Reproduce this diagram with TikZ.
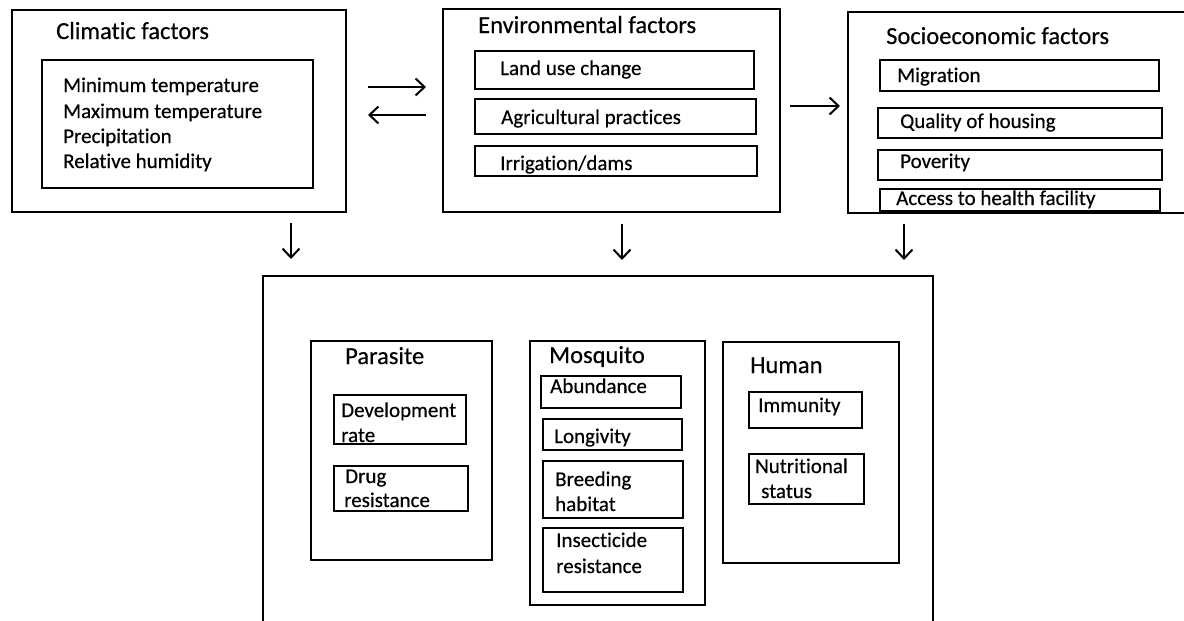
\documentclass[tikz,border=0pt]{standalone}
\usepackage{fontspec}
\setmainfont{Carlito}[Ligatures={NoCommon}, FakeBold=0.4]
\usetikzlibrary{fit,arrows.meta}
\tikzset{
  box/.style={draw=black, line width=1.2pt, inner sep=0pt},
  ttl/.style={anchor=base west, inner sep=0pt, font=\fontsize{24.5}{28}\selectfont},
  itm/.style={anchor=base west, inner sep=0pt, font=\fontsize{21}{25}\selectfont},
  arr/.style={line width=2pt, -{Straight Barb[length=9pt,width=17pt,line width=2pt]}}
}
\newcommand\rbox[3]{\node[box, fit={#2 #3}] (#1) {};}
\begin{document}
\begin{tikzpicture}[x=1pt,y=-1pt]
\useasboundingbox (0,0) rectangle (1184,621);
\clip (0,0) rectangle (1184,621);
% Climatic
\rbox{clim}{(12,10)}{(346,212)}
\node[ttl] (tclim) at (56,39) {Climatic factors};
\rbox{climin}{(42,60)}{(313,188)}
\node[itm] (c1) at (63,92) {Minimum temperature};
\node[itm] (c2) at (63,118) {Maximum temperature};
\node[itm] (c3) at (63,143) {Precipitation};
\node[itm] (c4) at (63,168) {Relative humidity};
% Environmental
\rbox{env}{(443,9)}{(780,212)}
\node[ttl] (tenv) at (478,33) {Environmental factors};
\rbox{e1}{(475,51)}{(754,89)}
\node[itm] (te1) at (500,75) {Land use change};
\rbox{e2}{(475,99)}{(756,134)}
\node[itm] (te2) at (501,124) {Agricultural practices};
\rbox{e3}{(475,146)}{(757,176)}
\node[itm] (te3) at (500,170) {Irrigation/dams};
% Socioeconomic
\rbox{soc}{(848,12)}{(1200,213)}
\node[ttl] (tsoc) at (886,44) {Socioeconomic factors};
\rbox{s1}{(880,60)}{(1159,91)}
\node[itm] (ts1) at (897,82) {Migration};
\rbox{s2}{(878,108)}{(1162,138)}
\node[itm] (ts2) at (900,128) {Quality of housing};
\rbox{s3}{(878,150)}{(1162,180)}
\node[itm] (ts3) at (900,168) {Poverity};
\rbox{s4}{(880,189)}{(1160,211)}
\node[itm] (ts4) at (896,205) {Access to health facility};
% arrows between top boxes
\coordinate (h1a) at (368,87); \coordinate (h1b) at (426,87);
\coordinate (h2a) at (426,115); \coordinate (h2b) at (368,115);
\coordinate (h3a) at (790,106); \coordinate (h3b) at (840,106);
\draw[arr] (h1a) -- (h1b);
\draw[arr] (h2a) -- (h2b);
\draw[arr] (h3a) -- (h3b);
% down arrows
\coordinate (d1a) at (291,223); \coordinate (d1b) at (291,259);
\coordinate (d2a) at (622,224); \coordinate (d2b) at (622,260);
\coordinate (d3a) at (904,224); \coordinate (d3b) at (904,260);
\draw[arr] (d1a) -- (d1b);
\draw[arr] (d2a) -- (d2b);
\draw[arr] (d3a) -- (d3b);
% bottom container
\rbox{main}{(263,276)}{(933,650)}
% Parasite
\rbox{par}{(311,341)}{(492,560)}
\node[ttl] (tpar) at (345,364) {Parasite};
\rbox{p1}{(334,395)}{(466,444)}
\node[itm] (tp1a) at (341,417) {Development};
\node[itm] (tp1b) at (341,442) {rate};
\rbox{p2}{(334,466)}{(468,511)}
\node[itm] (tp2a) at (345,483) {Drug};
\node[itm] (tp2b) at (344,507) {resistance};
% Mosquito
\rbox{mos}{(530,341)}{(705,605)}
\node[ttl] (tmos) at (549,363) {Mosquito};
\rbox{m1}{(541,376)}{(681,408)}
\node[itm] (tm1) at (550,393) {Abundance};
\rbox{m2}{(543,419)}{(682,450)}
\node[itm] (tm2) at (554,443) {Longivity};
\rbox{m3}{(543,461)}{(683,518)}
\node[itm] (tm3a) at (555,486) {Breeding};
\node[itm] (tm3b) at (555,511) {habitat};
\rbox{m4}{(543,528)}{(683,592)}
\node[itm] (tm4a) at (556,547) {Insecticide};
\node[itm] (tm4b) at (556,573) {resistance};
% Human
\rbox{hum}{(723,342)}{(899,563)}
\node[ttl] (thum) at (750,373) {Human};
\rbox{h1}{(749,392)}{(862,428)}
\node[itm] (th1) at (758,412) {Immunity};
\rbox{h2}{(749,454)}{(864,504)}
\node[itm] (th2a) at (755,473) {Nutritional};
\node[itm] (th2b) at (761,498) {status};
\end{tikzpicture}
\end{document}
